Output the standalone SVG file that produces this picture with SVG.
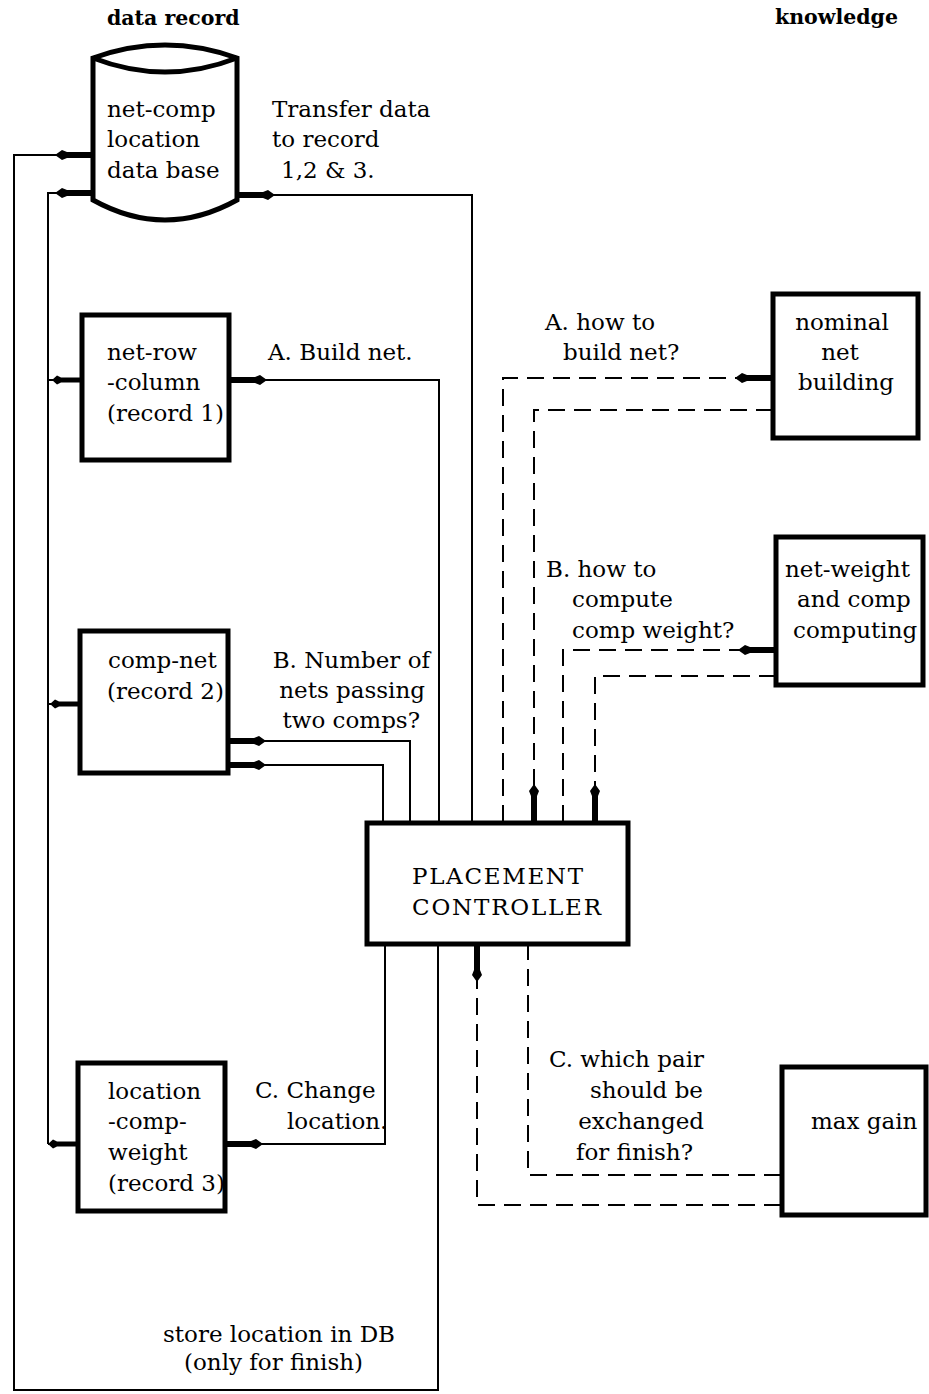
<svg xmlns="http://www.w3.org/2000/svg" width="929" height="1394" viewBox="0 0 929 1394">
<style>
  text { font-family: "DejaVu Serif", "Liberation Serif", serif; font-size: 23px; fill: #000; }
  .b { font-weight: bold; font-size: 20.5px; }
  .big { font-size: 23px; }
  .c { text-anchor: middle; }
  .r { text-anchor: end; }
  .box { fill: #fff; stroke: #000; stroke-width: 5; }
  .ln { fill: none; stroke: #000; stroke-width: 2; }
  .dash { stroke-dasharray: 17 9; }
</style>
<defs>
  <marker id="arr" markerUnits="userSpaceOnUse" viewBox="-40 -6 40 12" markerWidth="40" markerHeight="12" refX="0" refY="0" orient="auto">
    <path d="M-38,0 L-31,-5 L-26,-3 L0,-3 L0,3 L-26,3 L-31,5 Z" fill="#000"/>
  </marker>
  <marker id="arrS" markerUnits="userSpaceOnUse" viewBox="-32 -6 32 12" markerWidth="32" markerHeight="12" refX="0" refY="0" orient="auto">
    <path d="M-30,0 L-25,-4.5 L-21,-2.5 L0,-2.5 L0,2.5 L-21,2.5 L-25,4.5 Z" fill="#000"/>
  </marker>
</defs>
<rect width="929" height="1394" fill="#fff"/>

<g id="connectors">
  <path class="ln" d="M438,944 V1390 H14 V155 H93" marker-end="url(#arr)"/>
  <path class="ln" d="M48,1144 V193 H93" marker-end="url(#arr)"/>
  <path class="ln" d="M48,380 H82" marker-end="url(#arrS)"/>
  <path class="ln" d="M48,704 H80" marker-end="url(#arrS)"/>
  <path class="ln" d="M48,1144 H78" marker-end="url(#arrS)"/>
  <path class="ln" d="M472,822 V195 H237" marker-end="url(#arr)"/>
  <path class="ln" d="M439,822 V380 H229" marker-end="url(#arr)"/>
  <path class="ln" d="M410,822 V741 H228" marker-end="url(#arr)"/>
  <path class="ln" d="M383,822 V765 H228" marker-end="url(#arr)"/>
  <path class="ln" d="M385,944 V1144 H225" marker-end="url(#arr)"/>
  <path class="ln dash" d="M503,822 V378 H773" marker-end="url(#arr)"/>
  <path class="ln dash" d="M773,410 H534 V822" marker-end="url(#arr)"/>
  <path class="ln dash" d="M563,822 V650 H776" marker-end="url(#arr)"/>
  <path class="ln dash" d="M776,676 H595 V822" marker-end="url(#arr)"/>
  <path class="ln dash" d="M781,1205 H477 V944" marker-end="url(#arr)"/>
  <path class="ln dash" d="M781,1175 H528 V944"/>
</g>

<g id="labels">
  <text class="b" x="107" y="25">data record</text>
  <text class="b" x="775" y="24">knowledge</text>
  <text x="272" y="117">Transfer data</text>
  <text x="272" y="147">to record</text>
  <text x="281" y="178">1,2 &amp; 3.</text>
  <text x="268" y="360">A. Build net.</text>
  <text class="r" x="430" y="668">B. Number of</text>
  <text class="r" x="425" y="698">nets passing</text>
  <text class="r" x="420" y="728">two comps?</text>
  <text x="255" y="1098">C. Change</text>
  <text x="287" y="1129">location.</text>
  <text x="545" y="330">A. how to</text>
  <text x="563" y="360">build net?</text>
  <text x="546" y="577">B. how to</text>
  <text x="572" y="607">compute</text>
  <text x="572" y="638">comp weight?</text>
  <text class="r" x="704" y="1067">C. which pair</text>
  <text class="r" x="703" y="1098">should be</text>
  <text class="r" x="704" y="1129">exchanged</text>
  <text class="r" x="693" y="1160">for finish?</text>
  <text x="163" y="1342">store location in DB</text>
  <text x="184" y="1370">(only for finish)</text>
</g>

<g id="db">
  <path class="box" d="M93,58 L93,200 Q165,240 237,200 L237,58 Q165,32 93,58 Z"/>
  <path class="ln" style="stroke-width:5" d="M93,58 Q165,86 237,58"/>
  <text x="107" y="117">net-comp</text>
  <text x="107" y="147">location</text>
  <text x="107" y="178">data base</text>
</g>

<g id="record1">
  <rect class="box" x="82" y="315" width="147" height="145"/>
  <text x="107" y="360">net-row</text>
  <text x="107" y="390">-column</text>
  <text x="107" y="421">(record 1)</text>
</g>

<g id="record2">
  <rect class="box" x="80" y="631" width="148" height="142"/>
  <text x="108" y="668">comp-net</text>
  <text x="107" y="699">(record 2)</text>
</g>

<g id="record3">
  <rect class="box" x="78" y="1063" width="147" height="148"/>
  <text x="108" y="1099">location</text>
  <text x="108" y="1129">-comp-</text>
  <text x="108" y="1160">weight</text>
  <text x="108" y="1191">(record 3)</text>
</g>

<g id="controller">
  <rect class="box" x="367" y="823" width="261" height="121"/>
  <text class="big" x="412" y="884" textLength="171">PLACEMENT</text>
  <text class="big" x="412" y="915" textLength="189">CONTROLLER</text>
</g>

<g id="nominal">
  <rect class="box" x="773" y="294" width="145" height="144"/>
  <text class="c" x="842" y="330">nominal</text>
  <text class="c" x="840" y="360">net</text>
  <text class="c" x="846" y="390">building</text>
</g>

<g id="netweight">
  <rect class="box" x="776" y="537" width="147" height="148"/>
  <text x="785" y="577">net-weight</text>
  <text x="797" y="607">and comp</text>
  <text x="793" y="638">computing</text>
</g>

<g id="maxgain">
  <rect class="box" x="782" y="1067" width="144" height="148"/>
  <text x="811" y="1129">max gain</text>
</g>
</svg>
